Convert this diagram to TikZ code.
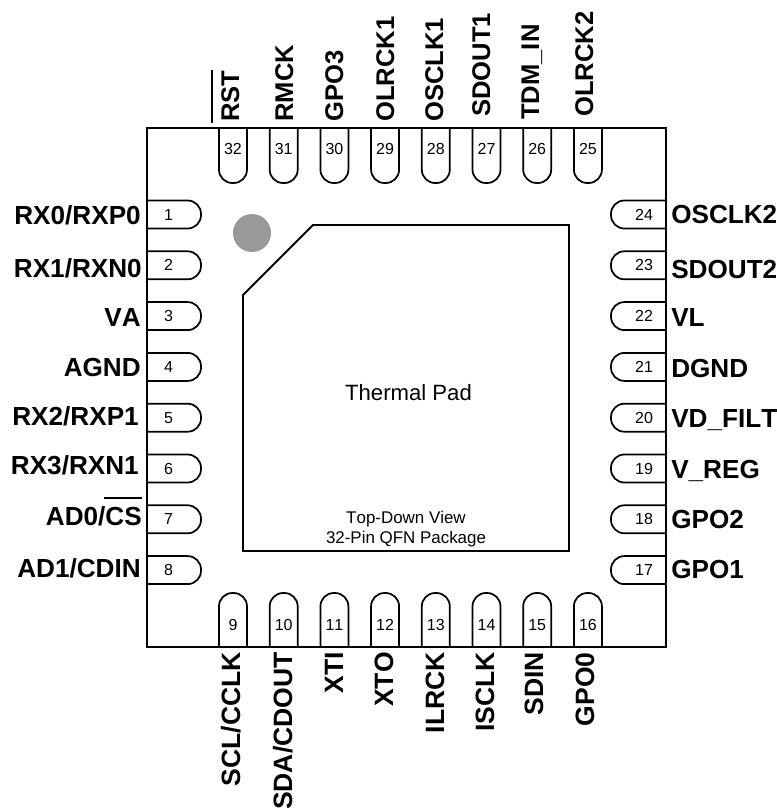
\documentclass[tikz,border=0pt]{standalone}
\usepackage{fontspec}
\setmainfont[Kerning=Off]{Liberation Sans}
\usepackage{tikz}
\begin{document}
\begin{tikzpicture}[x=0.75pt,y=-0.75pt,
  pinline/.style={line width=1.3pt,rounded corners=10pt,fill=white},
  pinnum/.style={inner sep=0pt,font=\fontsize{12}{14}\selectfont},
  pinname/.style={inner sep=0pt,font=\fontsize{19.6}{22}\selectfont\bfseries},
  padtext/.style={inner sep=0pt,align=center}]
\useasboundingbox (0,0) rectangle (777,808);
% thermal pad
\draw[line width=1.4pt] (243,295) -- (313,225) -- (569,225) -- (569,551) -- (243,551) -- cycle;
\fill[fill=black!40] (252,233) circle (19);
\node[padtext,font=\fontsize{16.6}{20}\selectfont] (padname) at (408.5,393) {Thermal Pad};
\node[padtext,font=\fontsize{12.7}{15}\selectfont] (padview) at (406,529) {Top-Down View\\32-Pin QFN Package};
% left hand
\foreach \num/\name/\xlab/\ylab [evaluate=\num as \ypos using 214.5+50.8*(\num-1)] in
  {1/{RX0/RXP0}/141/224,2/{RX1/RXN0}/142/277,3/VA/141/326,4/AGND/141/376,
   5/{RX2/RXP1}/139/425,6/{RX3/RXN1}/139/474,7/{AD0/CS}/142/525,8/{AD1/CDIN}/141/577}
{
  \draw[pinline] (147,\ypos-14) -- (201,\ypos-14) -- (201,\ypos+14) -- (147,\ypos+14);
  \node[pinnum] (num\num) at (168.5,\ypos) {\num};
  \node[pinname,anchor=base east] (lab\num) at (\xlab,\ylab) {\name};
}
% right hand
\foreach \num/\name/\ylab [evaluate=\num as \ypos using 214.5+50.8*(24-\num)] in
  {24/OSCLK2/223,23/SDOUT2/278,22/VL/326,21/DGND/377,20/VD\_FILT/427,19/V\_REG/478,18/GPO2/528,17/GPO1/578}
{
  \draw[pinline] (666,\ypos-14) -- (611,\ypos-14) -- (611,\ypos+14) -- (666,\ypos+14);
  \node[pinnum] (num\num) at (644,\ypos) {\num};
  \node[pinname,anchor=base west] (lab\num) at (671,\ylab) {\name};
}
% top
\foreach \num/\name/\xlab/\ylab [evaluate=\num as \xpos using 233+50.7*(32-\num)] in
  {32/RST/239/122,31/RMCK/293/122,30/GPO3/343/122,29/OLRCK1/394/122,
   28/OSCLK1/443/122,27/SDOUT1/490/117,26/TDM\_IN/539/120,25/OLRCK2/593/117}
{
  \draw[pinline] (\xpos-14,128) -- (\xpos-14,183) -- (\xpos+14,183) -- (\xpos+14,128);
  \node[pinnum] (num\num) at (\xpos,149) {\num};
  \node[pinname,anchor=base west,rotate=90,font=\fontsize{19.2}{22}\selectfont\bfseries] (lab\num) at (\xlab,\ylab) {\name};
}
% bottom
\foreach \num/\name/\xlab [evaluate=\num as \xpos using 233+50.7*(\num-9)] in
  {9/{SCL/CCLK}/240,10/{SDA/CDOUT}/292,11/XTI/343,12/XTO/393,13/ILRCK/444,14/ISCLK/494,15/SDIN/543,16/GPO0/594}
{
  \draw[pinline] (\xpos-14,647) -- (\xpos-14,593) -- (\xpos+14,593) -- (\xpos+14,647);
  \node[pinnum] (num\num) at (\xpos,625) {\num};
  \node[pinname,anchor=base east,rotate=90,font=\fontsize{19.9}{22}\selectfont\bfseries] (lab\num) at (\xlab,652) {\name};
}
% outline
\draw[line width=1.5pt] (147,128) rectangle (666,647);
\draw[line width=2.2pt] (212,70) -- (212,123);
\draw[line width=2.2pt] (104,498) -- (142,498);
\end{tikzpicture}
\end{document}
